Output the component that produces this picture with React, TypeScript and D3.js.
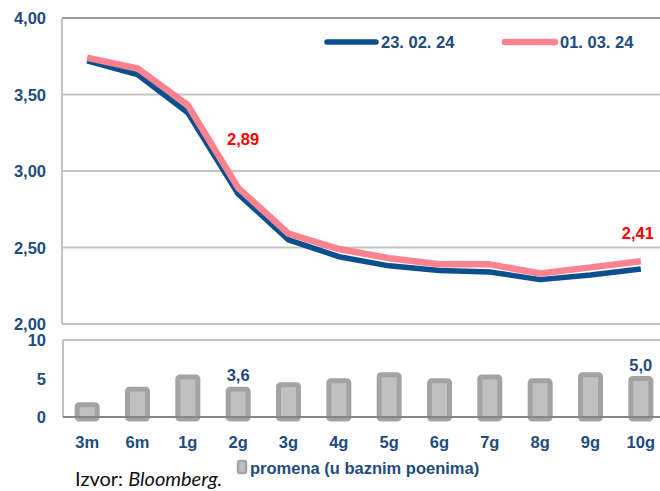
import * as d3 from "d3";
import React from "react";

// Yield curve data
const categories = ["3m", "6m", "1g", "2g", "3g", "4g", "5g", "6g", "7g", "8g", "9g", "10g"];
const series1 = [3.72, 3.63, 3.38, 2.85, 2.55, 2.44, 2.38, 2.35, 2.34, 2.29, 2.32, 2.36]; // 23. 02. 24
const series2 = [3.74, 3.67, 3.43, 2.89, 2.59, 2.49, 2.43, 2.39, 2.39, 2.33, 2.37, 2.41]; // 01. 03. 24
const change = [1.6, 3.6, 5.2, 3.6, 4.2, 4.7, 5.5, 4.7, 5.2, 4.7, 5.5, 5.0];
const yTicks = [2.0, 2.5, 3.0, 3.5, 4.0];
const barTicks = [0, 5, 10];
const seriesNames = ["23. 02. 24", "01. 03. 24"];
const labeledLine = ["2g", "10g"];
const labeledBars = ["2g", "10g"];

const BLUE = "#0c4f8f";
const PINK = "#fa838f";
const TEXT = "#224b7e";
const fmt = (v: number, d: number) => v.toFixed(d).replace(".", ",");

const App = () => {
  const width = 660;
  const height = 491;
  const x = d3.scalePoint<string>().domain(categories).range([62, 666]).padding(0.5);
  const y = d3.scaleLinear().domain([2, 4]).range([324, 18]);
  const yb = d3.scaleLinear().domain([0, 10]).range([417, 340]);

  const line = d3
    .line<number>()
    .x((_, i) => x(categories[i]) as number)
    .y((d) => y(d));

  const font = "'Liberation Sans', Arial, sans-serif";

  return (
    <svg width={width} height={height} style={{ position: "absolute", left: 0, top: 0 }}>
      <rect width={width} height={height} fill="#fff" />
      {/* top panel grid */}
      {yTicks.map((t) => (
        <line key={t} x1={62} x2={660} y1={y(t)} y2={y(t)}
          stroke={t === 4 ? "#9a9a9a" : "#c4c4c4"} strokeWidth={2} />
      ))}
      <line x1={62} x2={62} y1={y(4)} y2={y(2)} stroke="#c4c4c4" strokeWidth={2} />
      {yTicks.map((t) => (
        <text key={t} x={46} y={y(t) + 6} textAnchor="end" fontFamily={font}
          fontWeight="bold" fontSize={16.5} fill={TEXT}>{fmt(t, 2)}</text>
      ))}

      {/* lines */}
      <path d={line(series1) ?? ""} fill="none" stroke={BLUE} strokeWidth={5.5} strokeLinejoin="round" />
      <path d={line(series2) ?? ""} fill="none" stroke={PINK} strokeWidth={6.5} strokeLinejoin="round" />
      {labeledLine.map((c) => {
        const i = categories.indexOf(c);
        const last = i === categories.length - 1;
        return (
          <text key={c} x={(x(c) as number) + (last ? -3 : 5)} y={y(series2[i]) - (last ? 22 : 43)}
            textAnchor="middle" fontFamily={font} fontWeight="bold" fontSize={16.5} fill="#ff0000">
            {fmt(series2[i], 2)}
          </text>
        );
      })}

      {/* legend */}
      <line x1={327} x2={376} y1={42} y2={42} stroke={BLUE} strokeWidth={5.5} strokeLinecap="round" />
      <text x={381} y={48} fontFamily={font} fontWeight="bold" fontSize={16.5} fill={TEXT}>{seriesNames[0]}</text>
      <line x1={505} x2={555} y1={42} y2={42} stroke={PINK} strokeWidth={6.5} strokeLinecap="round" />
      <text x={560} y={48} fontFamily={font} fontWeight="bold" fontSize={16.5} fill={TEXT}>{seriesNames[1]}</text>

      {/* bottom panel */}
      <line x1={63} x2={660} y1={yb(10)} y2={yb(10)} stroke="#c4c4c4" strokeWidth={2} />
      <line x1={63} x2={63} y1={yb(10)} y2={yb(0)} stroke="#c4c4c4" strokeWidth={2} />
      {barTicks.map((t) => (
        <text key={t} x={46} y={yb(t) + 6} textAnchor="end" fontFamily={font}
          fontWeight="bold" fontSize={16.5} fill={TEXT}>{t}</text>
      ))}
      {change.map((v, i) => (
        <rect key={i} x={(x(categories[i]) as number) - 10} y={yb(v)} width={20}
          height={yb(0) - yb(v) + 2} rx={2} fill="#c0c0c0" stroke="#a3a3a3" strokeWidth={5} />
      ))}
      <line x1={63} x2={660} y1={yb(0)} y2={yb(0)} stroke="#858585" strokeWidth={2} />
      {labeledBars.map((c) => {
        const i = categories.indexOf(c);
        return (
          <text key={c} x={x(c) as number} y={yb(change[i]) - 8} textAnchor="middle"
            fontFamily={font} fontWeight="bold" fontSize={16.5} fill={TEXT}>{fmt(change[i], 1)}</text>
        );
      })}
      {categories.map((c) => (
        <text key={c} x={x(c) as number} y={448} textAnchor="middle" fontFamily={font}
          fontWeight="bold" fontSize={16.5} fill={TEXT}>{c}</text>
      ))}

      {/* bar legend + source */}
      <rect x={238} y={461} width={8} height={12} rx={2} fill="#c0c0c0" stroke="#a3a3a3" strokeWidth={2.5} />
      <text x={250} y={474} fontFamily={font} fontWeight="bold" fontSize={16.5} fill={TEXT}>promena (u baznim poenima)</text>
      <text x={75} y={486} fontFamily="Lato, 'Open Sans', sans-serif" fontSize={20} fill="#111">
        Izvor: <tspan fontStyle="italic">Bloomberg.</tspan>
      </text>
    </svg>
  );
};

export default App;
